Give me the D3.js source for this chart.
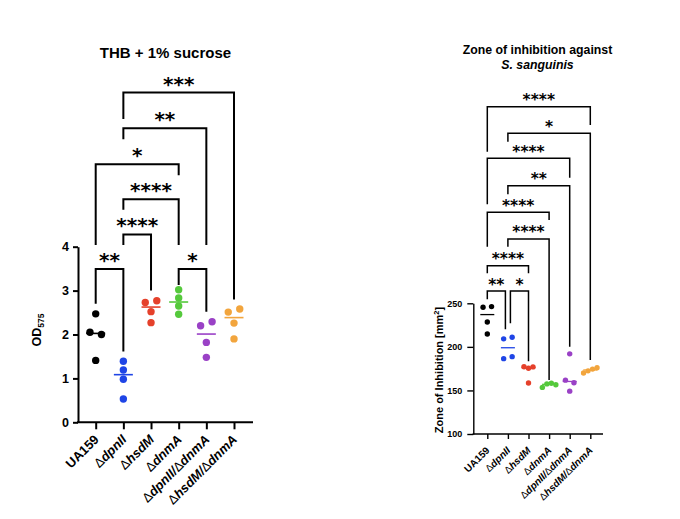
<!DOCTYPE html>
<html><head><meta charset="utf-8">
<script src="https://cdn.jsdelivr.net/npm/d3@7"></script>
<style>
body{margin:0;background:#fff}
svg{display:block}
text{font-family:"Liberation Sans",Arial,Helvetica,sans-serif;font-weight:bold;fill:#000}
</style>
</head><body>
<svg id="c" width="680" height="519"></svg>
<script>
// ---------- data ----------
const categories = ["UA159","ΔdpnII","ΔhsdM","ΔdnmA","ΔdpnII/ΔdnmA","ΔhsdM/ΔdnmA"];
const groupColors = ["#000000","#1f45e6","#e5412b","#55c93c","#9a41c6","#f2a53d"];

// Panel A: THB + 1% sucrose (OD575)
const odTitle = "THB + 1% sucrose";
const odTicks = [0,1,2,3,4];
const odUA159   = [2.47, 2.05, 2.00, 1.41];
const odDpnII   = [1.39, 1.19, 0.98, 0.53];
const odHsdM    = [2.73, 2.77, 2.52, 2.27];
const odDnmA    = [3.02, 2.83, 2.65, 2.46];
const odDpnDnm  = [2.20, 2.29, 1.82, 1.48];
const odHsdDnm  = [2.51, 2.58, 2.26, 1.90];
// comparisons: [groupA, groupB, label, bracket height, leg end A, leg end B] (in OD units)
const odComparisons = [
  [0,1,"**",   3.49, 2.70, 1.61],
  [3,4,"*",    3.49, 3.13, 2.52],
  [1,2,"****", 4.28, 4.04, 3.00],
  [1,3,"****", 5.08, 4.84, 4.04],
  [0,3,"*",    5.88, 4.04, 5.63],
  [1,4,"**",   6.70, 6.45, 4.04],
  [1,5,"***",  7.51, 6.91, 2.80]
];

// Panel B: Zone of inhibition against S. sanguinis (mm2)
const zoiTicks = [100,150,200,250];
const zoiUA159  = [245.5, 246.2, 228.6, 214.8];
const zoiDpnII  = [209.2, 211.0, 186.5, 188.8];
const zoiHsdM   = [177.2, 175.5, 177.0, 158.5];
const zoiDnmA   = [153.5, 157.5, 158.3, 156.5];
const zoiDpnDnm = [192.0, 161.8, 158.8, 149.2];
const zoiHsdDnm = [170.0, 172.5, 174.5, 176.0];
const zoiComparisons = [
  [0,1,"**",   264.1, 254.6, 220.2],
  [1,2,"*",    264.1, 227.0, 183.5],
  [0,2,"****", 293.2, 284.4, 284.4],
  [1,3,"****", 323.8, 315.0, 162.0],
  [0,3,"****", 354.4, 315.0, 345.6],
  [1,4,"**",   385.0, 375.1, 200.2],
  [0,4,"****", 416.4, 363.6, 394.2],
  [1,5,"*",    445.1, 435.5, 184.9],
  [0,5,"****", 475.6, 424.0, 454.6]
];

const odGroups  = [odUA159, odDpnII, odHsdM, odDnmA, odDpnDnm, odHsdDnm];
const zoiGroups = [zoiUA159, zoiDpnII, zoiHsdM, zoiDnmA, zoiDpnDnm, zoiHsdDnm];

// ---------- drawing ----------
const svg = d3.select("#c");

function labelParts(sel, name) {
  const tokens = name.split(/(Δ|\/)/).filter(t => t.length);
  tokens.forEach(t => {
    const ts = sel.append("tspan").text(t);
    if (t === "Δ") ts.attr("font-weight", "normal");
    else if (t !== "UA159") ts.attr("font-style", "italic");
  });
}

function swarm(vals, y, r, sp2, sp3) {
  const idx = vals.map((v,i)=>i).sort((a,b)=>y(vals[a])-y(vals[b]));
  const off = vals.map(()=>0);
  const clusters = []; let cur = [idx[0]];
  for (let k=1;k<idx.length;k++){
    if (Math.abs(y(vals[idx[k]])-y(vals[idx[k-1]])) < 2*r) cur.push(idx[k]);
    else { clusters.push(cur); cur=[idx[k]]; }
  }
  clusters.push(cur);
  clusters.forEach(c=>{
    const n=c.length; if(n<2) return;
    c.sort((a,b)=>a-b);
    const s = n===2 ? sp2 : sp3;
    c.forEach((i,k)=>off[i]=(k-(n-1)/2)*s);
  });
  return off;
}

function panel(p) {
  const g = svg.append("g");
  const y = d3.scaleLinear().domain(p.yDomain).range(p.yRange);
  const x = d3.scalePoint().domain(categories).range(p.xRange);

  // y axis
  const ya = g.append("g").attr("transform", `translate(${p.axisX},0)`)
    .call(d3.axisLeft(y).tickValues(p.ticks).tickFormat(d3.format("d"))
      .tickSize(p.tickY).tickSizeOuter(0).tickPadding(p.padY));
  ya.selectAll("path,line").attr("stroke","#000").attr("stroke-width",p.axisW);
  ya.selectAll("text").attr("font-size",p.tickFont).attr("font-family",null).style("font-weight","bold");

  // x axis
  const xa = g.append("g").attr("transform", `translate(0,${p.yRange[0]})`)
    .call(d3.axisBottom(x).tickSize(p.tickX).tickSizeOuter(0).tickFormat(""));
  xa.select(".domain").remove();
  xa.selectAll("line").attr("stroke","#000").attr("stroke-width",p.axisW);
  g.append("line").attr("x1",p.axisX - p.axisW/2).attr("x2",p.xEnd)
    .attr("y1",p.yRange[0]).attr("y2",p.yRange[0]).attr("stroke","#000").attr("stroke-width",p.axisW);

  // x labels
  categories.forEach(c => {
    const t = g.append("text")
      .attr("transform", `translate(${x(c)+p.labDx},${p.yRange[0]+p.labDy}) rotate(-45)`)
      .attr("text-anchor","end").attr("font-size",p.labFont);
    labelParts(t, c);
  });

  // points + medians
  p.groups.forEach((vals,i) => {
    const cx = x(categories[i]);
    const off = swarm(vals, y, p.r, p.sp2, p.sp3);
    g.selectAll(null).data(vals).join("circle")
      .attr("cx",(d,k)=>cx+off[k]).attr("cy",d=>y(d)).attr("r",p.r)
      .attr("fill",groupColors[i]);
    const m = d3.median(vals);
    g.append("line").attr("x1",cx-p.medHalf).attr("x2",cx+p.medHalf)
      .attr("y1",y(m)).attr("y2",y(m)).attr("stroke",groupColors[i]).attr("stroke-width",p.medW);
  });

  // brackets
  p.comps.forEach(cmp => {
    const [a,b,lab,h,ea,eb] = cmp;
    let xa_ = x(categories[a]), xb_ = x(categories[b]);
    p.comps.forEach(o => {
      if (o === cmp || o[3] !== h) return;
      if (o[0] === b) xb_ -= p.nudge;
      if (o[1] === a) xa_ += p.nudge;
    });
    g.append("path")
      .attr("d", `M${xa_},${y(ea)}V${y(h)}H${xb_}V${y(eb)}`)
      .attr("fill","none").attr("stroke","#000").attr("stroke-width",p.brW);
    g.append("text").attr("x",(xa_+xb_)/2).attr("y",y(h)-p.starOff)
      .attr("text-anchor","middle").attr("font-size",p.starFont)
      .style("font-family","'DejaVu Sans',sans-serif").text(lab);
  });
  return {g,x,y};
}

// Panel A
panel({
  yDomain:[0,4], yRange:[422.3,246.7], xRange:[95.7,234], axisX:78, xEnd:253,
  ticks:odTicks, tickY:5, padY:4, tickX:7, axisW:2, tickFont:12.5,
  labFont:13, labDx:4, labDy:18,
  groups:odGroups, r:3.7, sp2:11.5, sp3:8, medHalf:9.5, medW:1.6,
  comps:odComparisons, brW:2, starFont:20, starOff:2, nudge:2.5
});
svg.append("text").attr("x",165.5).attr("y",57.7).attr("text-anchor","middle")
  .attr("font-size",15).text(odTitle);
const odT = svg.append("text").attr("transform","translate(41,330) rotate(-90)")
  .attr("text-anchor","middle").attr("font-size",12.5);
odT.append("tspan").text("OD");
odT.append("tspan").attr("font-size",8.5).attr("dy",3).text("575");

// Panel B
panel({
  yDomain:[100,250], yRange:[434,303.3], xRange:[487.3,590.3], axisX:473.3, xEnd:603,
  ticks:zoiTicks, tickY:6, padY:5, tickX:5, axisW:1.4, tickFont:9,
  labFont:10, labDx:3, labDy:17,
  groups:zoiGroups, r:2.7, sp2:8.5, sp3:4.5, medHalf:7, medW:1.3,
  comps:zoiComparisons, brW:1.5, starFont:15.5, starOff:1.5, nudge:2.5
});
svg.append("text").attr("x",537.5).attr("y",54).attr("text-anchor","middle")
  .attr("font-size",12.3).text("Zone of inhibition against");
svg.append("text").attr("x",537.5).attr("y",69).attr("text-anchor","middle")
  .attr("font-size",12.3).attr("font-style","italic").text("S. sanguinis");
const zT = svg.append("text").attr("transform","translate(443,370) rotate(-90)")
  .attr("text-anchor","middle").attr("font-size",11);
zT.append("tspan").text("Zone of Inhibition [mm");
zT.append("tspan").attr("font-size",7.5).attr("dy",-4.5).text("2");
zT.append("tspan").attr("dy",4.5).text("]");
</script>
</body></html>
